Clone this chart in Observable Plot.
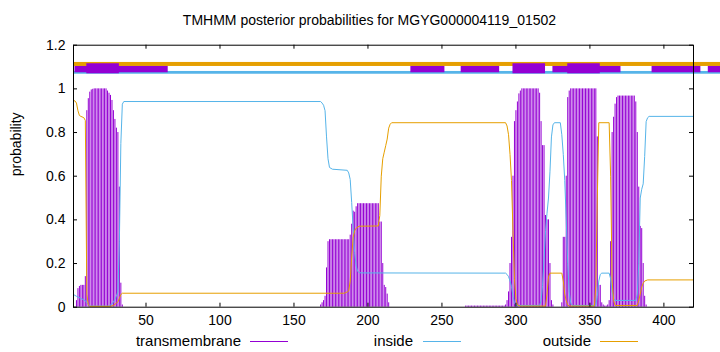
<!DOCTYPE html>
<html><head><meta charset="utf-8">
<script src="https://cdn.jsdelivr.net/npm/d3@7"></script>
<script src="https://cdn.jsdelivr.net/npm/@observablehq/plot@0.6"></script>
<style>
body{margin:0;background:#fff;font-family:"Liberation Sans",Arial,sans-serif;color:#000;}
#wrap{position:relative;width:720px;height:352px;overflow:hidden;}
#title{position:absolute;left:0;top:12px;width:739px;text-align:center;font-size:14px;line-height:16px;white-space:nowrap;}
#chart{position:absolute;left:0;top:30px;}
.lg{position:absolute;top:333px;font-size:15px;line-height:16px;white-space:nowrap;text-align:right;}
.ls{position:absolute;top:341px;height:1px;width:38px;}
</style></head>
<body>
<div id="wrap">
  <div id="title">TMHMM posterior probabilities for MGYG000004119_01502</div>
  <div id="chart"></div>
  <div class="lg" style="right:479px">transmembrane</div>
  <div class="ls" style="left:250px;background:#9400d3"></div>
  <div class="lg" style="right:307px">inside</div>
  <div class="ls" style="left:423px;background:#56b4e9"></div>
  <div class="lg" style="right:129px">outside</div>
  <div class="ls" style="left:600px;background:#e69f00"></div>
</div>
<script>
// ---- data ----
const seqLength = 420;
const xTicks = [50, 100, 150, 200, 250, 300, 350, 400];
const yTicks = [0, 0.2, 0.4, 0.6, 0.8, 1, 1.2];

// transmembrane posterior probability per residue (runs starting at tmStarts)
const tmStarts = [3, 168, 266, 331];
const tmValues = [
  [0.03,0.085,0.095,0.1,0.1,0.1,0.14,0.9,0.955,0.985,0.995,0.998,
   1,1,1,1,1,1,1,1,1,
   0.99,0.98,0.97,0.947,0.9,0.86,0.82,0.8,0.55,0.11,0.01],
  [0.01,0.02,0.03,0.05,0.18,0.3,
   0.309,0.309,0.309,0.309,0.309,0.309,0.309,0.309,0.309,0.309,0.309,0.309,0.309,0.309,
   0.33,0.38,0.44,0.435,0.46,
   0.474,0.474,0.474,0.474,0.474,0.474,0.474,0.474,0.474,0.474,0.474,0.474,0.474,0.474,0.474,
   0.39,0.39,0.2,0.1,0.09,0.06,0.02],
  [0.005,0.005,0.005,0.005,0.005,0.005,0.005,0.005,0.005,0.005,0.005,0.005,0.005,0.005,
   0.005,0.005,0.005,0.005,0.005,0.005,0.005,0.005,0.005,0.005,0.005,0.005,0.005,
   0.01,0.03,0.07,0.2,0.32,0.6,0.85,0.9,0.94,0.977,0.99,
   1,1,1,1,1,1,1,1,1,1,1,1,
   0.98,0.85,0.74,0.74,0.42,0.4,0.4,0.2,0.03,0.01],
  [0.02,0.32,0.32,0.6,0.96,0.99,
   1,1,1,1,1,1,1,1,1,1,1,1,1,1,1,1,1,1,
   0.78,0.1,0.1,0.02,0.01,0.005,0.005,0.01,0.03,0.3,0.8,0.87,0.93,0.96,
   0.967,0.967,0.967,0.967,0.967,0.967,0.967,0.967,0.967,0.967,0.967,0.967,
   0.94,0.8,0.55,0.37,0.36,0.2,0.05,0.01]
];

// inside probability (vertices of the curve)
const insidePos = [1,3,6,9,10,12,25,27,29,31,32,33,34,35,168,169,170,171,172,173,174,176,186,187,188,189,190,191,192,193,194,196,
  293,294,295,296,297,298,299,300,316,317,318,319,320,321,322,323,324,325,326,330,331,332,333,334,335,336,337,338,
  354,355,356,357,358,363,364,365,366,367,381,382,383,384,385,386,387,388,389,390,420];
const insideProb = [0.058,0.05,0.04,0.03,0.02,0.005,0.005,0.015,0.035,0.07,0.3,0.75,0.93,0.942,0.942,0.935,0.925,0.9,0.78,0.68,0.64,0.632,0.627,0.615,0.585,0.48,0.36,0.25,0.19,0.165,0.158,0.157,
  0.156,0.15,0.14,0.12,0.095,0.05,0.02,0.008,0.008,0.03,0.1,0.22,0.35,0.43,0.5,0.62,0.78,0.835,0.845,0.845,0.79,0.7,0.58,0.4,0.2,0.07,0.02,0.008,
  0.008,0.05,0.12,0.15,0.156,0.156,0.13,0.07,0.04,0.031,0.031,0.06,0.2,0.5,0.54,0.565,0.69,0.85,0.868,0.874,0.874];

// outside probability (vertices of the curve)
const outsidePos = [1,2,3,4,5,6,8,9,10,11,12,26,28,30,31,32,33,34,184,186,187,188,189,190,191,192,194,207,208,209,210,211,212,213,214,215,216,
  293,294,295,296,297,298,299,300,301,303,320,321,322,323,331,332,333,334,335,336,353,354,355,356,363,364,365,366,367,382,383,384,385,386,387,389,420];
const outsideProb = [0.946,0.945,0.935,0.9,0.878,0.874,0.868,0.855,0.06,0.01,0.004,0.004,0.008,0.018,0.025,0.04,0.058,0.064,0.064,0.07,0.075,0.12,0.23,0.32,0.35,0.362,0.371,0.372,0.42,0.6,0.68,0.71,0.74,0.77,0.82,0.838,0.845,
  0.845,0.83,0.79,0.7,0.58,0.351,0.13,0.04,0.01,0.005,0.005,0.06,0.14,0.156,0.156,0.12,0.06,0.03,0.01,0.005,0.005,0.1,0.5,0.845,0.845,0.6,0.12,0.03,0.008,0.008,0.03,0.06,0.092,0.11,0.12,0.125,0.125];

// predicted topology strip at the top
const stripInside = [[1, 445]];
const stripOutside = [[1, 445]];
const stripTMThin = [[2, 65], [229, 252], [263, 289], [325, 371], [392, 425], [430, 445]];
const stripTMThick = [[10, 32], [298, 320], [335, 357]];
const stripLevels = {inside: [1.1026, 1.121], outside: [1.067, 1.0797], thin: [1.0737, 1.1026], thick: [1.069, 1.115]};

// ---- build tables ----
const tm = tmStarts.flatMap((s, i) => tmValues[i].map((p, j) => ({pos: s + j, p})));
const inside = insidePos.map((x, i) => ({x, p: insideProb[i]}));
const outside = outsidePos.map((x, i) => ({x, p: outsideProb[i]}));
const seg = (arr, lv) => arr.map(([a, b]) => ({a, b, y1: lv[0], y2: lv[1]}));

const W = 720, H = 300, mt = 14.7, mb = 23.3, ml = 73, mr = 27;
const plotH = H - mt - mb, plotW = W - ml - mr, tickLen = 4;
const purple = "#9400d3", blue = "#56b4e9", orange = "#e69f00";

const chart = Plot.plot({
  width: W, height: H,
  marginTop: mt, marginBottom: mb, marginLeft: ml, marginRight: mr,
  style: {fontFamily: '"Liberation Sans", Arial, sans-serif', fontSize: "14px", color: "#000", background: "#fff"},
  x: {domain: [1, seqLength]},
  y: {domain: [0, 1.2]},
  marks: [
    Plot.ruleX(tm, {x: "pos", y1: 0, y2: "p", stroke: purple, strokeWidth: 1}),
    Plot.rect(seg(stripInside, stripLevels.inside), {x1: "a", x2: "b", y1: "y1", y2: "y2", fill: orange}),
    Plot.rect(seg(stripOutside, stripLevels.outside), {x1: "a", x2: "b", y1: "y1", y2: "y2", fill: blue}),
    Plot.rect(seg(stripTMThin, stripLevels.thin), {x1: "a", x2: "b", y1: "y1", y2: "y2", fill: purple}),
    Plot.rect(seg(stripTMThick, stripLevels.thick), {x1: "a", x2: "b", y1: "y1", y2: "y2", fill: purple}),
    Plot.line(inside, {x: "x", y: "p", stroke: blue, strokeWidth: 1}),
    Plot.line(outside, {x: "x", y: "p", stroke: orange, strokeWidth: 1}),
    Plot.ruleX(xTicks, {x: d => d, insetTop: plotH - tickLen, stroke: "#000"}),
    Plot.ruleX(xTicks, {x: d => d, insetBottom: plotH - tickLen, stroke: "#000"}),
    Plot.ruleY(yTicks, {y: d => d, insetRight: plotW - tickLen, stroke: "#000"}),
    Plot.ruleY(yTicks, {y: d => d, insetLeft: plotW - tickLen, stroke: "#000"}),
    Plot.axisX({ticks: xTicks, tickSize: 0, tickPadding: 8, label: null, fontSize: 14}),
    Plot.axisY({ticks: yTicks, tickSize: 0, tickPadding: 8, label: null, fontSize: 14, tickFormat: d3.format("~g")}),
    Plot.text(["probability"], {frameAnchor: "left", dx: -57, rotate: -90, fontSize: 14, fill: "#000"}),
    Plot.frame({stroke: "#000", strokeWidth: 1})
  ]
});
document.getElementById("chart").appendChild(chart);
</script>
</body></html>
